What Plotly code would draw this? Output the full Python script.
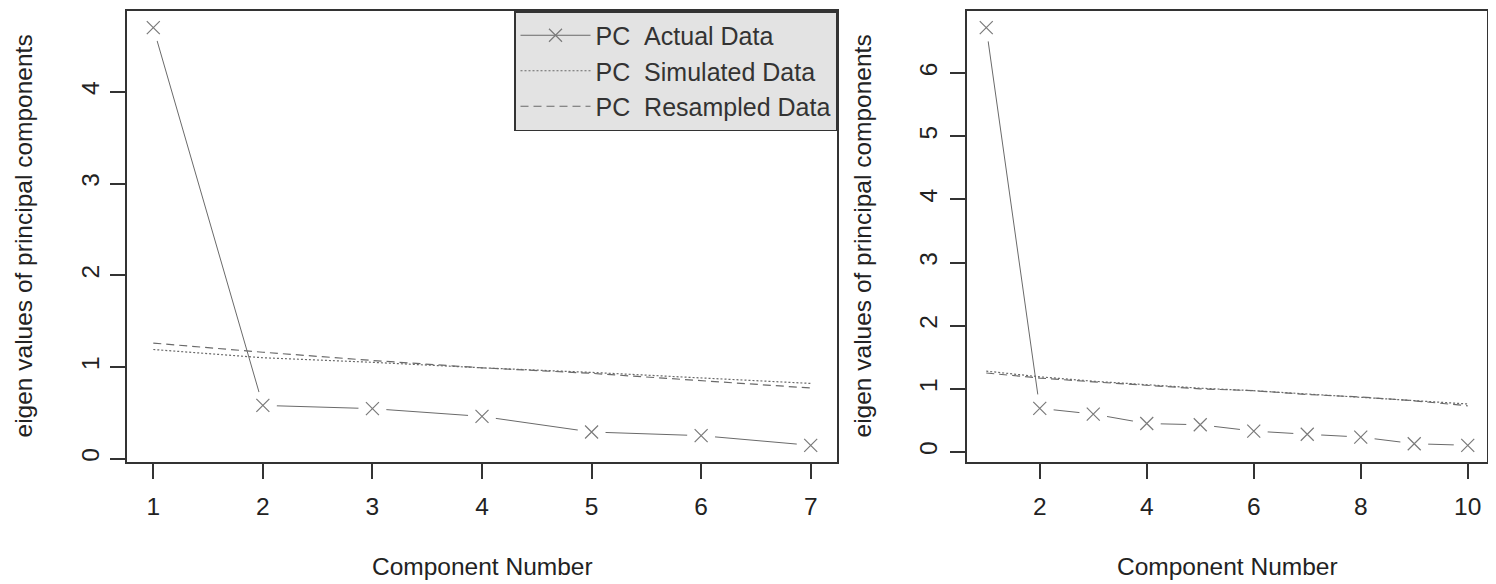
import plotly.graph_objects as go

# ---------------- data ----------------
components_left = [1, 2, 3, 4, 5, 6, 7]
actual_left = [4.70, 0.58, 0.545, 0.46, 0.29, 0.25, 0.145]
simulated_left = [1.19, 1.10, 1.05, 0.99, 0.94, 0.88, 0.82]
resampled_left = [1.26, 1.16, 1.07, 0.99, 0.93, 0.85, 0.77]

components_right = [1, 2, 3, 4, 5, 6, 7, 8, 9, 10]
actual_right = [6.72, 0.69, 0.60, 0.45, 0.43, 0.33, 0.28, 0.235, 0.13, 0.105]
simulated_right = [1.28, 1.19, 1.12, 1.06, 1.01, 0.97, 0.92, 0.87, 0.82, 0.76]
resampled_right = [1.25, 1.17, 1.11, 1.05, 1.00, 0.97, 0.91, 0.87, 0.81, 0.73]

xticks_left = [1, 2, 3, 4, 5, 6, 7]
yticks_left = [0, 1, 2, 3, 4]
xticks_right = [2, 4, 6, 8, 10]
yticks_right = [0, 1, 2, 3, 4, 5, 6]

legend_names = ["PC\u00a0\u00a0Actual Data", "PC\u00a0\u00a0Simulated Data", "PC\u00a0\u00a0Resampled Data"]
x_title = "Component Number"
y_title = "eigen values of principal components"

# ---------------- style ----------------
FONT = "Liberation Sans, Arial, sans-serif"
LINE_COL = "#6a6a6a"
MARK_COL = "#7a7a7a"
AX_COL = "#333333"
TXT_COL = "#222222"
FS = 24.5

# the page body has an 8px margin: convert target page pixels to figure pixels
OFF = 8
W, H = 1496 - OFF, 584 - OFF
BOX_L, BOX_R, BOX_T, BOX_B = 127 - OFF, 1487 - OFF, 11 - OFF, 462 - OFF
ML, MR, MT, MB = BOX_L, W - BOX_R, BOX_T, H - BOX_B
plot_w = W - ML - MR
plot_h = H - MT - MB
left_end = (837 - OFF - ML) / plot_w
right_start = (967 - OFF - ML) / plot_w

fig = go.Figure()


def add_panel(xs, actual, sim, res, xa, ya, show_legend):
    fig.add_trace(go.Scatter(
        x=xs, y=actual, mode="lines+markers", name=legend_names[0],
        xaxis=xa, yaxis=ya, showlegend=show_legend, hoverinfo="skip",
        line=dict(color=LINE_COL, width=1),
        marker=dict(symbol="x-thin", size=13, line=dict(color=MARK_COL, width=1.2)),
    ))
    # white discs give the gaps of R's type = "b"
    fig.add_trace(go.Scatter(
        x=xs, y=actual, mode="markers", xaxis=xa, yaxis=ya, showlegend=False,
        hoverinfo="skip", marker=dict(symbol="circle", size=28, color="white",
                                      line=dict(width=0)),
    ))
    fig.add_trace(go.Scatter(
        x=xs, y=actual, mode="markers", xaxis=xa, yaxis=ya, showlegend=False,
        hoverinfo="skip",
        marker=dict(symbol="x-thin", size=13, line=dict(color=MARK_COL, width=1.2)),
    ))
    fig.add_trace(go.Scatter(
        x=xs, y=sim, mode="lines", name=legend_names[1], xaxis=xa, yaxis=ya,
        showlegend=show_legend, hoverinfo="skip",
        line=dict(color=LINE_COL, width=1.2, dash="2px,2px"),
    ))
    fig.add_trace(go.Scatter(
        x=xs, y=res, mode="lines", name=legend_names[2], xaxis=xa, yaxis=ya,
        showlegend=show_legend, hoverinfo="skip",
        line=dict(color=LINE_COL, width=1.2, dash="8px,5px"),
    ))


add_panel(components_left, actual_left, simulated_left, resampled_left, "x", "y", True)
add_panel(components_right, actual_right, simulated_right, resampled_right, "x2", "y2", False)


def r_range(vals):
    lo, hi = min(vals), max(vals)
    pad = 0.04 * (hi - lo)
    return [lo - pad, hi + pad]


all_left = actual_left + simulated_left + resampled_left
all_right = actual_right + simulated_right + resampled_right

axis_common = dict(
    showline=True, mirror=True, linecolor=AX_COL, linewidth=1.5,
    ticks="outside", ticklen=15, tickwidth=1.5, tickcolor=AX_COL,
    showgrid=False, zeroline=False,
    tickfont=dict(family=FONT, size=FS, color=TXT_COL),
)

fig.update_layout(
    width=W, height=H,
    margin=dict(l=ML, r=MR, t=MT, b=MB, autoexpand=False),
    paper_bgcolor="white", plot_bgcolor="white",
    font=dict(family=FONT, color=TXT_COL),
    xaxis=dict(domain=[0, left_end], range=r_range(components_left),
               tickvals=xticks_left, anchor="y", ticklabelstandoff=7, **axis_common),
    yaxis=dict(domain=[0, 1], range=r_range(all_left), tickvals=yticks_left,
               tickangle=-90, anchor="x", ticklabelstandoff=1, **axis_common),
    xaxis2=dict(domain=[right_start, 1], range=r_range(components_right),
                tickvals=xticks_right, anchor="y2", ticklabelstandoff=7, **axis_common),
    yaxis2=dict(domain=[0, 1], range=r_range(all_right), tickvals=yticks_right,
                tickangle=-90, anchor="x2", ticklabelstandoff=3, **axis_common),
    legend=dict(
        x=left_end, xanchor="right", y=1, yanchor="top",
        bgcolor="#e3e3e3", bordercolor=AX_COL, borderwidth=1.5,
        font=dict(family=FONT, size=25, color="#333333"),
        tracegroupgap=0, itemwidth=70,
    ),
    showlegend=True,
)

title_font = dict(family=FONT, size=FS, color=TXT_COL)
for xc in [(0 + left_end) / 2, (right_start + 1) / 2]:
    fig.add_annotation(text=x_title, xref="paper", yref="paper",
                       x=xc, y=-(566 - OFF - BOX_B) / plot_h, xanchor="center",
                       yanchor="middle", showarrow=False, font=title_font)
for px in [23, 862]:
    fig.add_annotation(text=y_title, xref="paper", yref="paper",
                       x=(px - OFF - ML) / plot_w, y=0.5, textangle=-90,
                       xanchor="center", yanchor="middle", showarrow=False,
                       borderpad=0, font=title_font)

fig.write_html("out.html")
